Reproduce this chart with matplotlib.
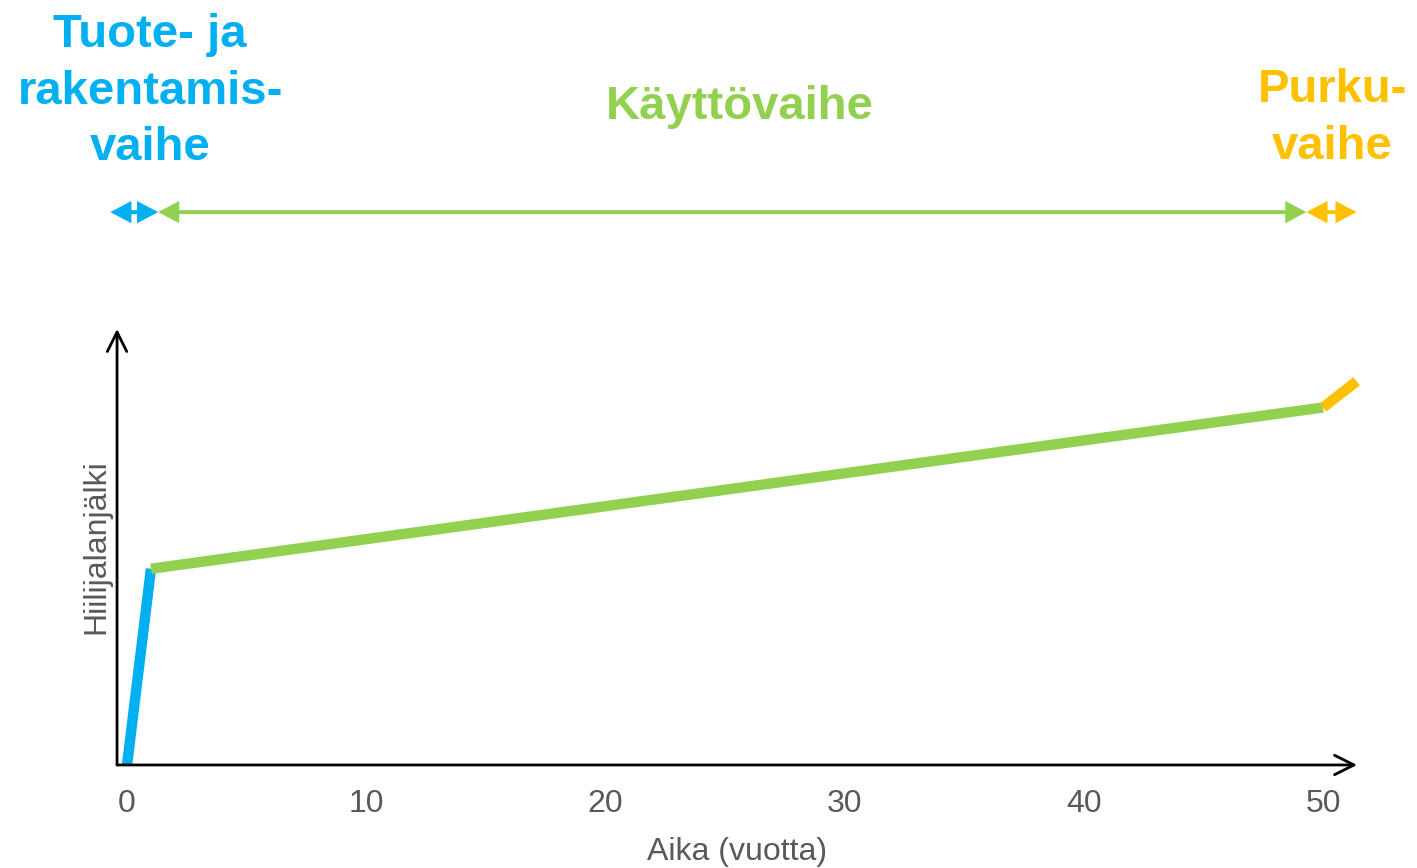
import matplotlib.pyplot as plt

plt.rcParams['font.family'] = ['Liberation Sans', 'DejaVu Sans']

# carbon footprint over the building life cycle (arbitrary units)
build_years = [0, 1]
build_co2 = [0, 45]
use_years = [1, 50]
use_co2 = [45, 82]
end_years = [50, 51.4]
end_co2 = [82, 88]

xticks = [0, 10, 20, 30, 40, 50]

# phase arrows above the chart
phase_start = [-0.7, 1.3, 49.3]
phase_end = [1.3, 49.3, 51.4]
phase_names = ["Tuote- ja\nrakentamis-\nvaihe", "Käyttövaihe", "Purku-\nvaihe"]
phase_label_x = [0.96, 25.6, 50.4]
phase_label_y = [154.4, 150.8, 148.3]

blue = "#00B0F0"
green = "#92D050"
orange = "#FFC000"
grey = "#595959"
colors = [blue, green, orange]

fig = plt.figure(figsize=(14.17, 8.68), dpi=100)
ax = fig.add_axes([0.0826, 0.1187, 0.8751, 0.5023])
ax.set_xlim(-0.418, 51.42)
ax.set_ylim(0, 100)

ax.plot(build_years, build_co2, color=blue, lw=7.5, solid_capstyle='butt', clip_on=False)
ax.plot(use_years, use_co2, color=green, lw=7.5, solid_capstyle='butt', clip_on=False)
ax.plot(end_years, end_co2, color=orange, lw=7.5, solid_capstyle='butt', clip_on=False)

for s in ax.spines.values():
    s.set_visible(False)

# axes drawn as arrows
ax.annotate('', xy=(1, 0), xytext=(0, 0), xycoords='axes fraction',
            arrowprops=dict(arrowstyle='->', lw=2, color='black',
                            mutation_scale=35, shrinkA=0, shrinkB=0))
ax.annotate('', xy=(0, 1), xytext=(0, 0), xycoords='axes fraction',
            arrowprops=dict(arrowstyle='->', lw=2, color='black',
                            mutation_scale=35, shrinkA=0, shrinkB=0))

ax.set_xticks(xticks)
ax.set_xticklabels([str(t) for t in xticks])
ax.set_yticks([])
ax.tick_params(axis='x', length=0, pad=17, labelsize=23, labelcolor=grey)
ax.set_xlabel("Aika (vuotta)", fontsize=23, color=grey, labelpad=13)
ax.set_ylabel("Hiilijalanjälki", fontsize=23, color=grey, labelpad=4)

arrow_y = 126.8
for x0, x1, c in zip(phase_start, phase_end, colors):
    ax.annotate('', xy=(x1, arrow_y), xytext=(x0, arrow_y),
                annotation_clip=False,
                arrowprops=dict(arrowstyle='<|-|>,head_length=0.36,head_width=0.19',
                                lw=2.8, color=c, joinstyle='miter',
                                mutation_scale=30, shrinkA=0, shrinkB=0))

for name, x, y, c in zip(phase_names, phase_label_x, phase_label_y, colors):
    ax.text(x, y, name, color=c, fontsize=34, fontweight='bold',
            ha='center', va='center', linespacing=1.37, clip_on=False)

fig.savefig("out.png", dpi=100)
